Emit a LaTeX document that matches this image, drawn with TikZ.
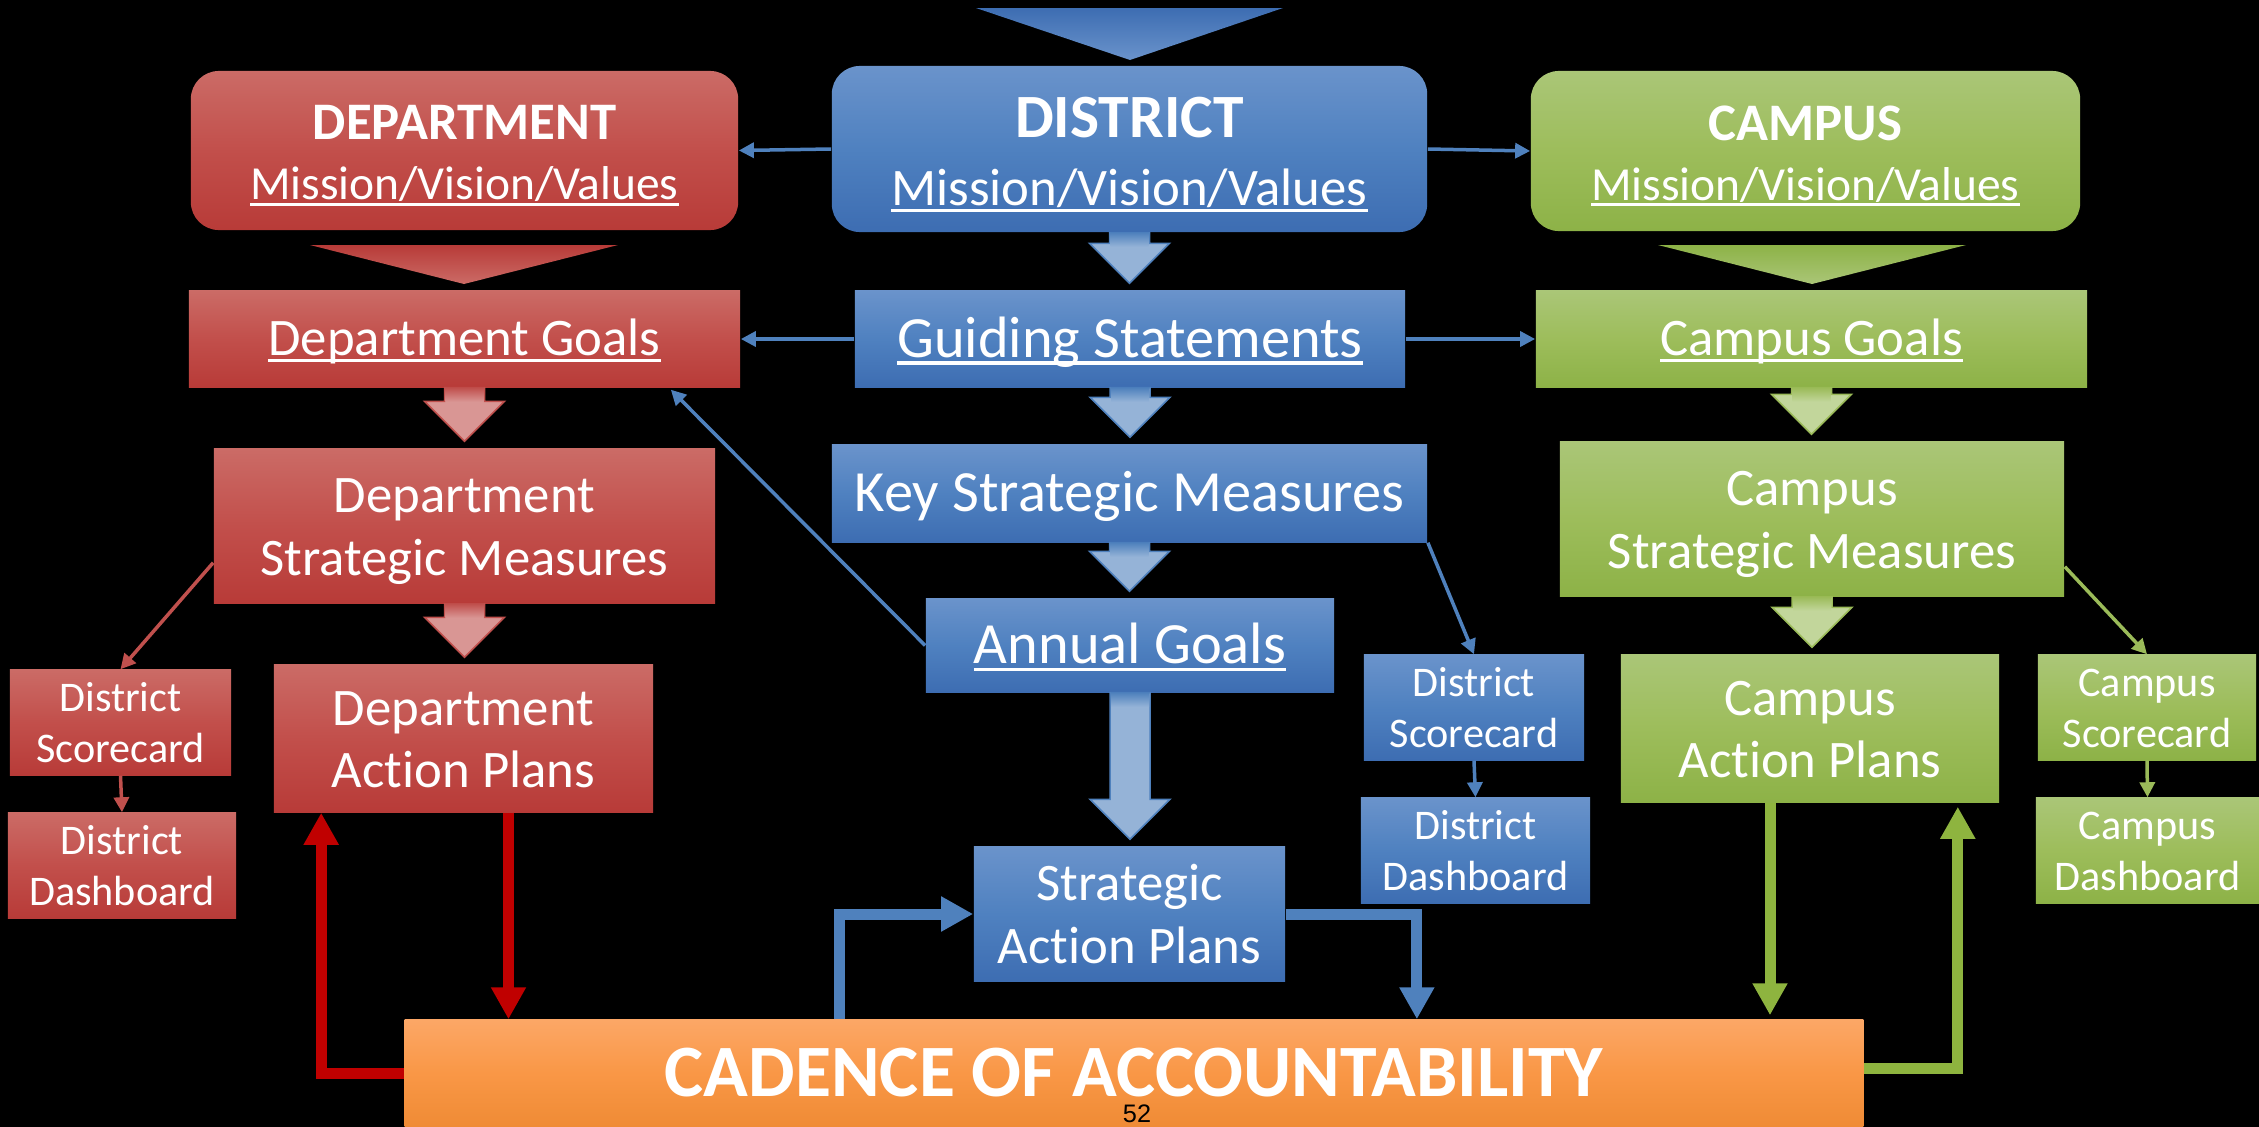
\documentclass[tikz,border=0pt]{standalone}
\usepackage{fontspec}
\setmainfont{Carlito}[Ligatures=NoCommon]
\newfontfamily\arialfont{Liberation Sans}
\usetikzlibrary{calc,arrows.meta}
\definecolor{rtop}{HTML}{CB6B66}
\definecolor{rmid}{HTML}{C24F4B}
\definecolor{rbot}{HTML}{B83B38}
\definecolor{btop}{HTML}{6A93CB}
\definecolor{bmid}{HTML}{4F81C0}
\definecolor{bbot}{HTML}{3D6DB2}
\definecolor{gtop}{HTML}{AAC677}
\definecolor{gmid}{HTML}{9DBD5B}
\definecolor{gbot}{HTML}{8DB247}
\definecolor{otop}{HTML}{FCA766}
\definecolor{omid}{HTML}{F99746}
\definecolor{obot}{HTML}{EF8B35}
\definecolor{rlight}{HTML}{D99694}
\definecolor{blight}{HTML}{95B3D7}
\definecolor{glight}{HTML}{C2D69B}
\definecolor{rline}{HTML}{C0504D}
\definecolor{bline}{HTML}{4F81BD}
\definecolor{gline}{HTML}{9BBB59}
\definecolor{darkred}{HTML}{C00000}
\definecolor{gthick}{HTML}{8EB43F}
\newcommand\myul[1]{\setbox0=\hbox{#1}\rlap{\rule[-0.13em]{\wd0}{0.065em}}\box0}
\newcommand\blk[4]{%
  \filldraw[fill=#3, draw=#4, line width=0.015cm]
    ($(#1.south)+(-20,0)$) -- ($(#1.south)+(20,0)$)
    -- ($(#1.south |- #2.north)+(20,-47)$) -- ($(#1.south |- #2.north)+(40,-47)$)
    -- ($(#1.south |- #2.north)+(0,-7)$)
    -- ($(#1.south |- #2.north)+(-40,-47)$) -- ($(#1.south |- #2.north)+(-20,-47)$) -- cycle;
  \shade[top color=#4, bottom color=#3] ($(#1.south)+(-19,0)$) rectangle ($(#1.south)+(19,14)$);
}
\begin{document}
\begin{tikzpicture}[x=0.01cm, y=-0.01cm,
  box/.style={inner sep=0pt, text=white, align=center},
  redbox/.style={box, top color=rtop, bottom color=rbot, middle color=rmid},
  bluebox/.style={box, top color=btop, bottom color=bbot, middle color=bmid},
  greenbox/.style={box, top color=gtop, bottom color=gbot, middle color=gmid},
  f15/.style={font=\fontsize{15}{17.8}\selectfont},
  f166/.style={font=\fontsize{16.6}{20}\selectfont},
  f12/.style={font=\fontsize{12}{14.4}\selectfont},
  one15/.style={f15, text height=9.45pt, text depth=0pt},
  one166/.style={f166, text height=10.46pt, text depth=0pt},
  two15/.style={f15, text height=28pt, text depth=0pt},
  two12/.style={f12, text height=22.5pt, text depth=0pt},
  thin/.style={line width=0.035cm, -{Triangle[width=0.15cm,length=0.15cm]}},
  thick/.style={line width=0.11cm, -{Triangle[width=0.33cm,length=0.32cm]}}
]
\useasboundingbox (0,0) rectangle (2259,1127);
\fill[black] (0,0) rectangle (2259,1127);

% top triangle
\shade[top color=bbot, bottom color=btop] (976,8) -- (1283,8) -- (1130,60) -- cycle;

% row 1
\node[redbox, rounded corners=0.28cm, minimum width=5.47cm, minimum height=1.59cm,
  font=\fontsize{13.5}{17}\selectfont, text height=28pt, text depth=0pt]
  (dep) at (464.5,150.5) {{\fontsize{15}{17}\selectfont\bfseries DEPARTMENT}\\\myul{Mission/Vision/Values}};
\node[bluebox, rounded corners=0.28cm, minimum width=5.95cm, minimum height=1.66cm,
  font=\fontsize{15}{19.4}\selectfont, text height=32pt, text depth=0pt]
  (dist) at (1129.5,149) {{\fontsize{17.5}{19.4}\selectfont\bfseries DISTRICT}\\\myul{Mission/Vision/Values}};
\node[greenbox, rounded corners=0.28cm, minimum width=5.49cm, minimum height=1.60cm,
  font=\fontsize{13.5}{17}\selectfont, text height=28pt, text depth=0pt]
  (camp) at (1805.5,151) {{\fontsize{15}{17}\selectfont\bfseries CAMPUS}\\\myul{Mission/Vision/Values}};

% triangles
\shade[top color=rbot, bottom color=rtop] (310,245) -- (618,245) -- (464,284) -- cycle;
\shade[top color=gbot, bottom color=gtop] (1658,245) -- (1966,245) -- (1812,284) -- cycle;

% row 2
\node[redbox, one15, minimum width=5.51cm, minimum height=0.96cm] (dg) at (464.5,339) {\myul{Department Goals}};
\node[bluebox, one166, minimum width=5.50cm, minimum height=0.96cm] (gs) at (1130,339) {\myul{Guiding Statements}};
\node[greenbox, one15, minimum width=5.51cm, minimum height=0.96cm] (cg) at (1811.5,339) {\myul{Campus Goals}};

% row 3
\node[redbox, two15, minimum width=5.01cm, minimum height=1.54cm] (dsm) at (464.5,526) {Department\\Strategic Measures};
\node[bluebox, one166, minimum width=5.95cm, minimum height=0.97cm] (ksm) at (1129.5,493.5) {Key Strategic Measures};
\node[greenbox, two15, minimum width=5.04cm, minimum height=1.54cm] (csm) at (1812,519) {Campus\\Strategic Measures};

% row 4
\node[redbox, two12, minimum width=2.21cm, minimum height=1.05cm] (rsc) at (120.5,722.5) {District\\Scorecard};
\node[redbox, two12, minimum width=2.28cm, minimum height=1.05cm] (rdb) at (122,865.5) {District\\Dashboard};
\node[redbox, two15, minimum width=3.79cm, minimum height=1.47cm] (dap) at (463.5,738.5) {Department\\Action Plans};
\node[bluebox, one166, minimum width=4.08cm, minimum height=0.93cm] (ag) at (1130,645.5) {\myul{Annual Goals}};
\node[bluebox, two12, minimum width=2.20cm, minimum height=1.05cm] (bsc) at (1474,707.5) {District\\Scorecard};
\node[bluebox, two12, minimum width=2.29cm, minimum height=1.05cm] (bdb) at (1475.5,850.5) {District\\Dashboard};
\node[greenbox, two15, minimum width=3.78cm, minimum height=1.47cm] (cap) at (1810,728.5) {Campus\\Action Plans};
\node[greenbox, two12, minimum width=2.18cm, minimum height=1.05cm] (csc) at (2147,707.5) {Campus\\Scorecard};
\node[greenbox, two12, minimum width=2.23cm, minimum height=1.05cm] (cdb) at (2147.5,850.5) {Campus\\Dashboard};
\node[bluebox, two15, minimum width=3.11cm, minimum height=1.34cm] (sap) at (1129.5,914) {Strategic\\Action Plans};

% bottom
\node[box, top color=otop, bottom color=obot, middle color=omid, minimum width=14.58cm, minimum height=1.07cm,
  font=\fontsize{21}{25}\selectfont\bfseries, text height=13.2pt, text depth=0pt]
  (cad) at (1134,1073.5) {CADENCE OF ACCOUNTABILITY};
\node[inner sep=0pt, text=black, font=\arialfont\fontsize{7.2}{8.6}\selectfont] (pg) at (1137,1114) {52};

% block arrows
\blk{dg}{dsm}{rlight}{rline}
\blk{dsm}{dap}{rlight}{rline}
\blk{dist}{gs}{blight}{bline}
\blk{gs}{ksm}{blight}{bline}
\blk{ksm}{ag}{blight}{bline}
\blk{ag}{sap}{blight}{bline}
\blk{cg}{csm}{glight}{gline}
\blk{csm}{cap}{glight}{gline}

% thin connectors
\draw[thin, bline] (dist.west) -- (dep.east);
\draw[thin, bline] (dist.east) -- (camp.west);
\draw[thin, bline] (gs.west) -- (dg.east);
\draw[thin, bline] (gs.east) -- (cg.west);
\coordinate (dgin) at ($(dg.south east)+(-70,2)$);
\draw[thin, bline] (ag.west) -- (dgin);
\draw[thin, bline] (ksm.south east) -- (bsc.north);
\draw[thin, bline] (bsc.south) -- (bdb.north);
\coordinate (dsmout) at ($(dsm.south west)+(0,-41)$);
\draw[thin, rline] (dsmout) -- (rsc.north);
\draw[thin, rline] (rsc.south) -- (rdb.north);
\coordinate (csmout) at ($(csm.south east)+(0,-30)$);
\draw[thin, gline] (csmout) -- (csc.north);
\draw[thin, gline] (csc.south) -- (cdb.north);

% thick loops
\coordinate (r1) at ($(dap.south)+(45,0)$);
\draw[thick, darkred] (r1) -- (r1 |- cad.north);
\coordinate (r2) at ($(dap.south west)+(48,0)$);
\draw[thick, darkred] (cad.west) -| (r2);
\coordinate (b1) at ($(cad.north west)+(436,0)$);
\draw[thick, bline] (b1) |- (sap.west);
\coordinate (b2) at ($(cad.north west)+(1013,0)$);
\draw[thick, bline] (sap.east) -| (b2);
\coordinate (g1) at ($(cap.south)+(-40,0)$);
\draw[thick, gthick] (g1) -- ($(g1 |- cad.north)+(0,-4)$);
\coordinate (g2) at ($(cap.south east)+(-42,4)$);
\draw[thick, gthick] ($(cad.east)+(0,-5)$) -| (g2);
\end{tikzpicture}
\end{document}
